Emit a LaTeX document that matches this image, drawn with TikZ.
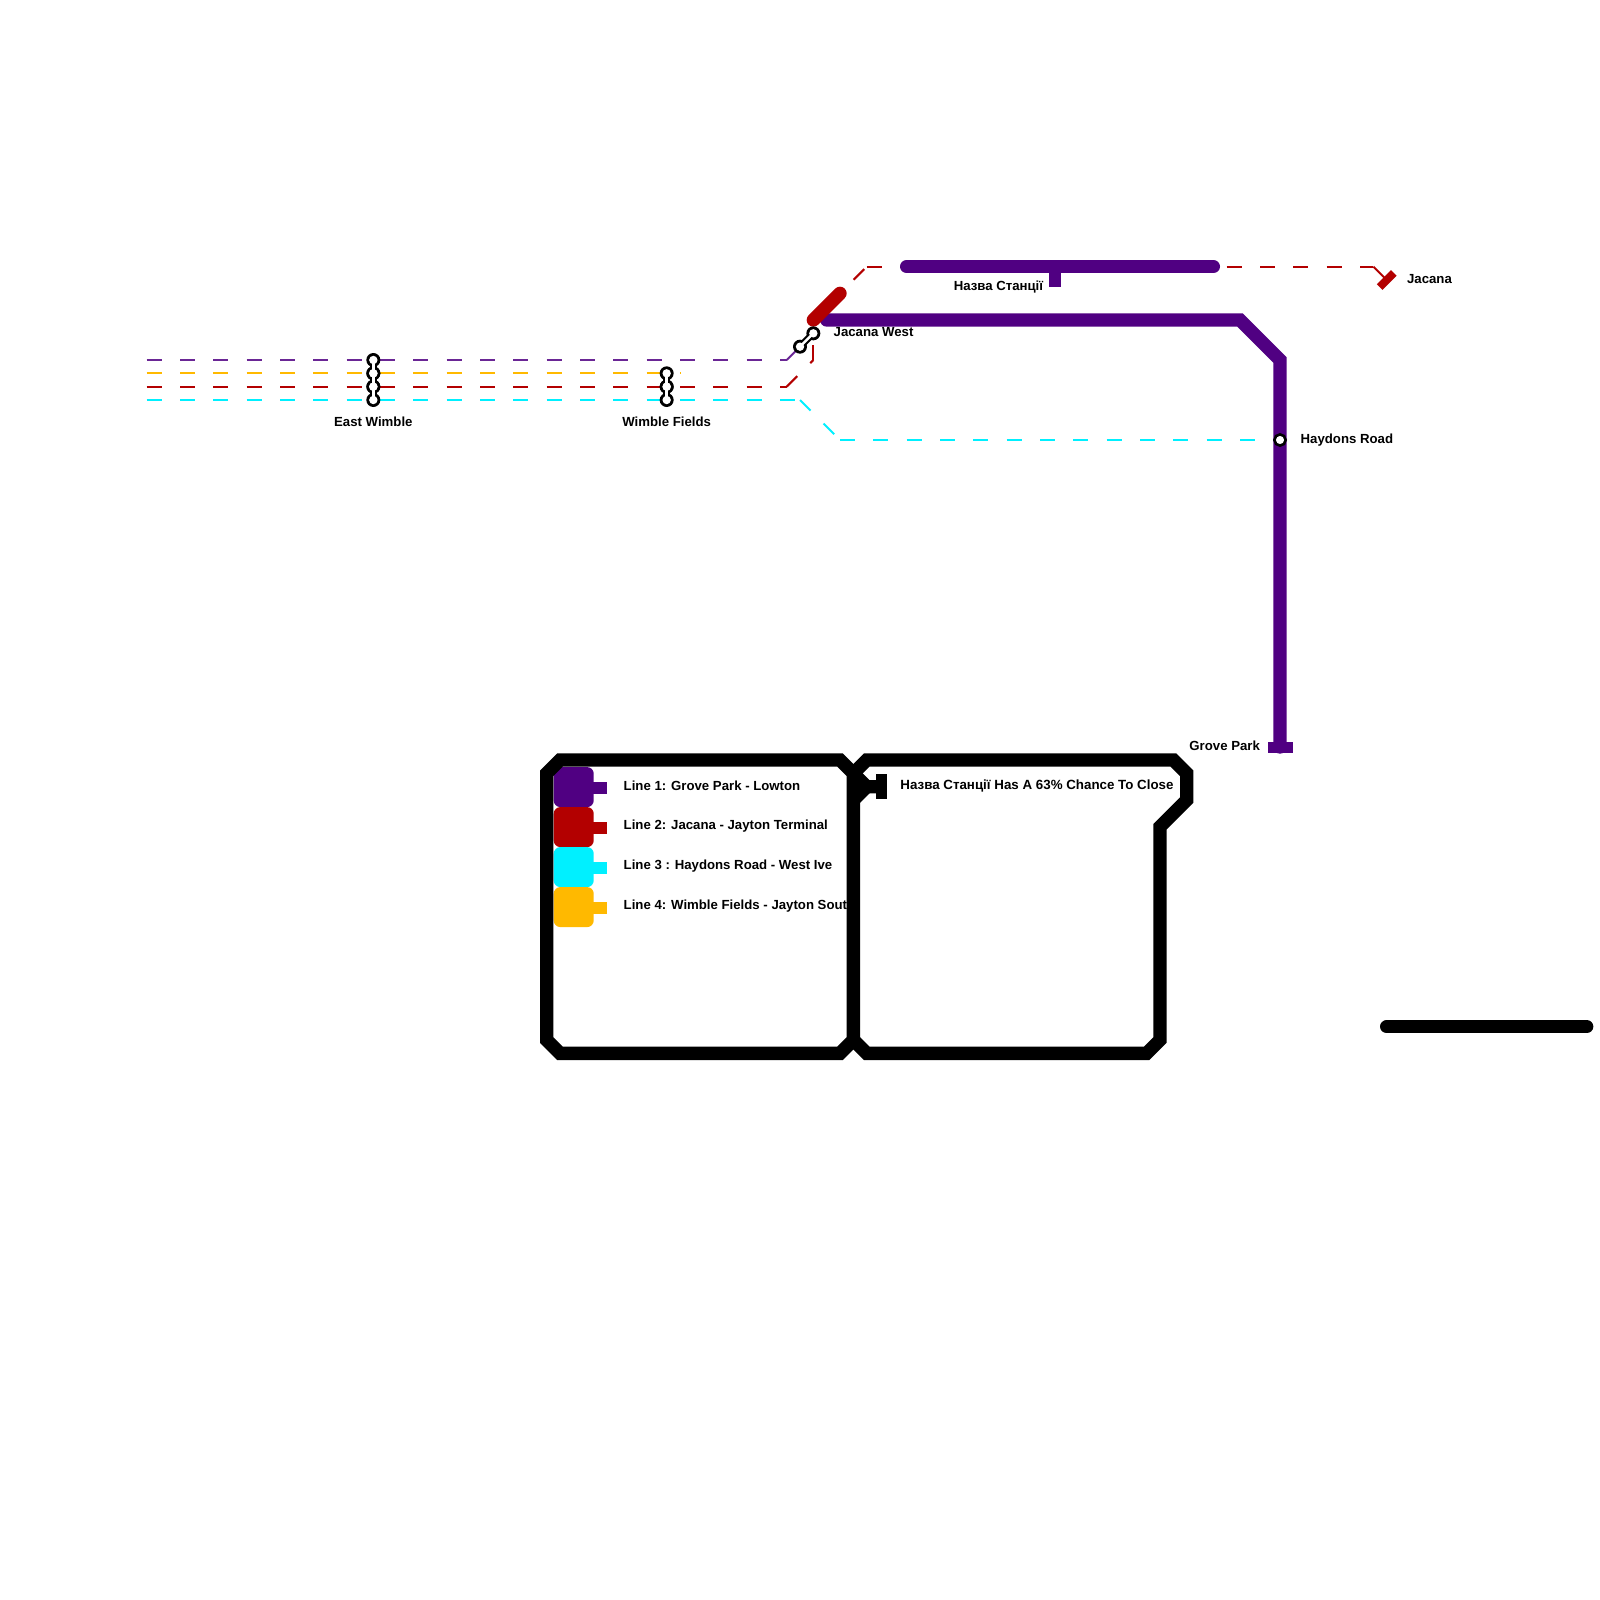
\documentclass[tikz,border=0pt]{standalone}
\usepackage{fontspec}
\setmainfont{Liberation Sans}
\definecolor{lp}{HTML}{500082}
\definecolor{lr}{HTML}{B30000}
\definecolor{lc}{HTML}{00F0FF}
\definecolor{ly}{HTML}{FFB900}
\tikzset{
  thinl/.style={line width=1pt},
  dashl/.style={line width=1pt,dash pattern=on 7.5pt off 9.1667pt},
  thick1/.style={line width=6.667pt,line cap=round},
  thickb/.style={line width=6.667pt,miter limit=10},
  lbl/.style={font=\fontsize{6.6pt}{8pt}\selectfont\bfseries,inner sep=0pt,text=black},
  swatch/.style={rounded corners=3.3pt,minimum width=20pt,minimum height=20pt,inner sep=0pt,anchor=north west},
}
\newcommand{\stnlink}[1]{%
  \foreach \a/\b in {#1}{\draw[black,line width=3.4pt](\a)--(\b);}%
  \foreach \a/\b in {#1}{\fill[black](\a)circle(3.5pt);\fill[black](\b)circle(3.5pt);}%
  \foreach \a/\b in {#1}{\fill[white](\a)circle(2.1pt);\fill[white](\b)circle(2.1pt);}%
  \foreach \a/\b in {#1}{\draw[white,line width=1.2pt](\a)--(\b);}%
}
\begin{document}
\begin{tikzpicture}[x=0.5pt,y=-0.5pt]
\useasboundingbox[fill=white](0,0)rectangle(1600,1600);
% coordinates
\coordinate (ps) at (146.67,360);\coordinate (pc) at (786.67,360);
\coordinate (ys) at (146.67,373.33);\coordinate (ye) at (681,373.33);
\coordinate (rs) at (146.67,386.67);\coordinate (rc) at (786.67,386.67);
\coordinate (rd) at (813.33,360);\coordinate (re) at (813.33,333.33);
\coordinate (cs) at (146.67,400);\coordinate (cc) at (800,400);
\coordinate (cd) at (840,440);\coordinate (ce) at (1280,440);
\coordinate (rt1) at (830,303.33);\coordinate (rt2) at (866.67,266.67);\coordinate (rt3) at (906.67,266.67);
\coordinate (rt4) at (1226.67,266.67);\coordinate (rt5) at (1373.33,266.67);\coordinate (jac) at (1386.67,280);
\coordinate (ew1) at (373.33,360);\coordinate (ew2) at (373.33,373.33);\coordinate (ew3) at (373.33,386.67);\coordinate (ew4) at (373.33,400);
\coordinate (wf1) at (666.67,373.33);\coordinate (wf2) at (666.67,386.67);\coordinate (wf3) at (666.67,400);
\coordinate (jw1) at (800,346.67);\coordinate (jw2) at (813.33,333.33);
\coordinate (hr) at (1280,440);
\coordinate (gp) at (1280,747);
\coordinate (ns) at (1055,266.67);
% thin dashed lines
\draw[dashl,lp!85!white](ps)--(pc);
\draw[thinl,lp!85!white](pc)--(jw1);
\draw[dashl,ly](ys)--(ye);
\draw[dashl,lr](rs)--(rc);
\draw[dashl,lr](rc)--(rd);
\draw[dashl,lr](rd)--(re);
\draw[dashl,lr](rt1)--(rt2);
\draw[dashl,lr](rt2)--(rt3);
\draw[dashl,lr](rt4)--(rt5);
\draw[thinl,lr](rt5)--(jac);
\draw[dashl,lc](cs)--(cc);
\draw[dashl,lc](cc)--(cd);
\draw[dashl,lc](cd)--(ce);
% thick purple
\draw[thick1,lp](906.67,266.67)--(1213.33,266.67);
\draw[lp,line width=5.7pt](ns)--(1055,287.3);
\draw[line width=6.667pt,line cap=round,lp](826.67,320)--(1240,320)--(1280,360)--(gp);
\fill[lp](1267.7,741.7)rectangle(1292.7,753.3);
% thick red
\draw[thick1,lr](813.33,320)--(840,293.33);
\draw[lr,line width=4pt]([shift={(7.07,-7.07)}]jac)--([shift={(-7.07,7.07)}]jac);
% stations
\stnlink{ew1/ew2,ew2/ew3,ew3/ew4}
\stnlink{wf1/wf2,wf2/wf3}
\stnlink{jw1/jw2}
\node[circle,draw=black,fill=white,line width=1.3pt,minimum size=5.6pt,inner sep=0pt] (hrn) at (hr) {};
% legend swatches
\node[swatch,fill=lp] (s1) at (553.33,766.67) {};
\node[swatch,fill=lr] (s2) at (553.33,806.67) {};
\node[swatch,fill=lc] (s3) at (553.33,846.67) {};
\node[swatch,fill=ly] (s4) at (553.33,886.67) {};
\fill[lp](590,782.3)rectangle(607,793.7);
\fill[lr](590,822.3)rectangle(607,833.7);
\fill[lc](590,862.3)rectangle(607,873.7);
\fill[ly](590,902.3)rectangle(607,913.7);
% labels
\node[lbl,anchor=west] (t1) at (623.33,786) {Line 1: Grove Park - Lowton};
\node[lbl,anchor=west] (t2) at (623.33,826.5) {Line 2: Jacana - Jayton Terminal};
\node[lbl,anchor=west] (t3) at (623.33,866.5) {Line 3 : Haydons Road - West Ive};
\node[lbl,anchor=west] (t4) at (623.33,906.5) {Line 4: Wimble Fields - Jayton Sout};
\node[lbl,anchor=west,font=\fontsize{6.67pt}{8pt}\selectfont\bfseries] (t5) at (900,786) {Назва Станції Has A 63\% Chance To Close};
\node[lbl] (lew) at (373.33,422.2) {East Wimble};
\node[lbl] (lwf) at (666.67,422.2) {Wimble Fields};
\node[lbl,anchor=west] (ljw) at (833.3,332) {Jacana West};
\node[lbl,anchor=east] (lns) at (1043.5,286.7) {Назва Станції};
\node[lbl,anchor=west] (ljc) at (1406.7,279) {Jacana};
\node[lbl,anchor=west] (lhr) at (1300.3,440) {Haydons Road};
\node[lbl,anchor=east] (lgp) at (1260.3,745.5) {Grove Park};
% black frames
\draw[thickb,black](546.67,773.33)--(560,760)--(840,760)--(853.33,773.33)--(853.33,1040)--(840,1053.33)--(560,1053.33)--(546.67,1040)--cycle;
\draw[thickb,black](853.33,773.33)--(866.67,760)--(1173.33,760)--(1186.67,773.33)--(1186.67,800)--(1160,826.67)--(1160,1040)--(1146.67,1053.33)--(866.67,1053.33)--(853.33,1040);
\draw[thickb,black](853.33,773.33)--(866.67,786.67)--(880,786.67);
\draw[thickb,black](853.33,800)--(866.67,786.67);
\fill[black](875.7,774.3)rectangle(887,799);
\draw[thick1,black](1386.67,1026.67)--(1586.67,1026.67);
\end{tikzpicture}
\end{document}
